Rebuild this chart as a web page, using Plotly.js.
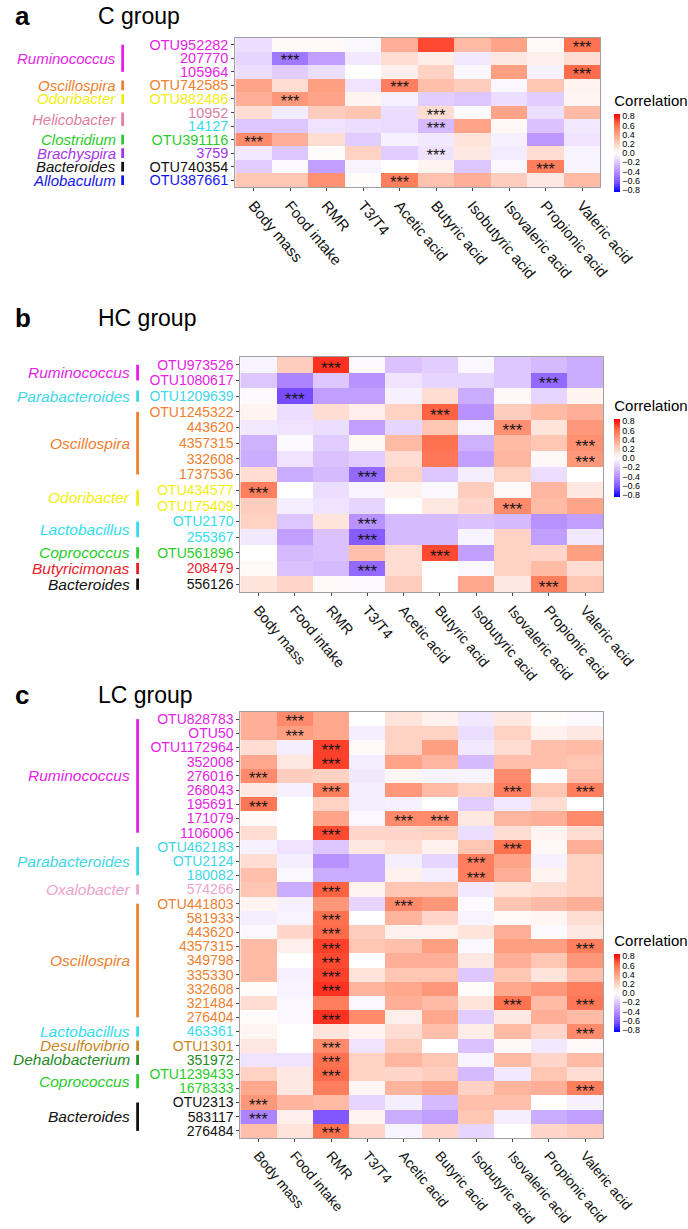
<!DOCTYPE html>
<html>
<head>
<meta charset="utf-8">
<script src="https://cdn.plot.ly/plotly-3.0.1.min.js"></script>
<style>html,body{margin:0;padding:0;background:#fff;}#chart{width:688px;height:1229px;}</style>
</head>
<body>
<div id="chart"></div>
<script>
// ---------------- DATA ----------------
const variables = ["Body mass","Food intake","RMR","T3/T4","Acetic acid","Butyric acid","Isobutyric acid","Isovaleric acid","Propionic acid","Valeric acid"];

// Panel a: C group
const otuA = ["OTU952282","207770","105964","OTU742585","OTU882486","10952","14127","OTU391116","3759","OTU740354","OTU387661"];
const genusA = ["Ruminococcus","Ruminococcus","Ruminococcus","Oscillospira","Odoribacter","Helicobacter","Helicobacter","Clostridium","Brachyspira","Bacteroides","Allobaculum"];
const corrA = [
  [-0.12, 0.02, 0.02,-0.03, 0.35, 0.70, 0.30, 0.40, 0.02, 0.60],
  [-0.15,-0.50,-0.35,-0.08, 0.15, 0.08,-0.08, 0.10, 0.07, 0.15],
  [-0.12,-0.18,-0.12, 0.00, 0.07, 0.20,-0.03, 0.42,-0.05, 0.62],
  [ 0.40, 0.15, 0.42,-0.10, 0.55, 0.28, 0.22,-0.03, 0.25, 0.05],
  [ 0.35, 0.45, 0.40, 0.05,-0.05,-0.18,-0.20,-0.12,-0.18, 0.04],
  [ 0.15,-0.07, 0.22, 0.25,-0.12, 0.15,-0.02, 0.40,-0.12, 0.30],
  [-0.20,-0.20,-0.10,-0.12,-0.13,-0.25, 0.40, 0.03,-0.22,-0.08],
  [ 0.50, 0.35, 0.15,-0.18,-0.05,-0.08, 0.12,-0.05,-0.38,-0.10],
  [-0.08,-0.20, 0.01, 0.20,-0.18,-0.10, 0.10,-0.07, 0.15,-0.04],
  [-0.18,-0.02,-0.35,-0.04, 0.00, 0.05,-0.20,-0.03, 0.55,-0.04],
  [ 0.25, 0.25, 0.48, 0.01, 0.55, 0.27, 0.35, 0.22, 0.10, 0.30]
];
const sigA = [[9],[1],[9],[4],[1],[5],[5],[0],[5],[8],[4]];

// Panel b: HC group
const otuB = ["OTU973526","OTU1080617","OTU1209639","OTU1245322","443620","4357315","332608","1737536","OTU434577","OTU175409","OTU2170","255367","OTU561896","208479","556126"];
const genusB = ["Ruminococcus","Ruminococcus","Parabacteroides","Oscillospira","Oscillospira","Oscillospira","Oscillospira","Oscillospira","Odoribacter","Odoribacter","Lactobacillus","Lactobacillus","Coprococcus","Butyricimonas","Bacteroides"];
const corrB = [
  [-0.04, 0.22, 0.75,-0.02,-0.22,-0.18,-0.03,-0.20,-0.25,-0.30],
  [-0.20,-0.45,-0.20,-0.40,-0.10,-0.15,-0.15,-0.20,-0.55,-0.30],
  [-0.02,-0.65,-0.35,-0.35,-0.05, 0.15,-0.30, 0.03,-0.15, 0.05],
  [ 0.05,-0.12, 0.15, 0.07, 0.20, 0.65,-0.40, 0.22, 0.30, 0.35],
  [-0.08,-0.10,-0.12,-0.35,-0.15, 0.25,-0.04, 0.48, 0.12, 0.45],
  [-0.28,-0.02,-0.18, 0.03, 0.30, 0.60,-0.28, 0.30, 0.25, 0.48],
  [-0.30,-0.10,-0.22,-0.18, 0.15, 0.58,-0.35, 0.32, 0.03, 0.45],
  [ 0.15,-0.30,-0.25,-0.55, 0.20,-0.20,-0.06, 0.20,-0.12, 0.00],
  [ 0.55, 0.00,-0.12,-0.04, 0.06,-0.03, 0.22, 0.02, 0.32, 0.10],
  [ 0.22,-0.06,-0.10,-0.15, 0.00, 0.10, 0.18, 0.50, 0.30, 0.40],
  [ 0.20,-0.20, 0.12,-0.40,-0.25,-0.25,-0.22,-0.25,-0.40,-0.35],
  [-0.08,-0.35,-0.22,-0.60,-0.25,-0.25,-0.04, 0.20,-0.35,-0.08],
  [ 0.00,-0.25,-0.22, 0.28, 0.15, 0.70,-0.35, 0.20, 0.18, 0.42],
  [ 0.02,-0.22,-0.25,-0.55, 0.15, 0.00,-0.03, 0.20, 0.30, 0.15],
  [ 0.12, 0.18, 0.02,-0.02, 0.22, 0.00, 0.38, 0.10, 0.55, 0.25]
];
const sigB = [[2],[8],[1],[5],[7],[9],[9],[3],[0],[7],[3],[3],[5],[3],[8]];

// Panel c: LC group
const otuC = ["OTU828783","OTU50","OTU1172964","352008","276016","268043","195691","171079","1106006","OTU462183","OTU2124","180082","574266","OTU441803","581933","443620","4357315","349798","335330","332608","321484","276404","463361","OTU1301","351972","OTU1239433","1678333","OTU2313","583117","276484"];
const genusC = ["Ruminococcus","Ruminococcus","Ruminococcus","Ruminococcus","Ruminococcus","Ruminococcus","Ruminococcus","Ruminococcus","Ruminococcus","Parabacteroides","Parabacteroides","Parabacteroides","Oxalobacter","Oscillospira","Oscillospira","Oscillospira","Oscillospira","Oscillospira","Oscillospira","Oscillospira","Oscillospira","Oscillospira","Lactobacillus","Desulfovibrio","Dehalobacterium","Coprococcus","Coprococcus","Bacteroides","Bacteroides","Bacteroides"];
const corrC = [
  [ 0.35, 0.50, 0.38, 0.00, 0.12, 0.06,-0.08, 0.10, 0.01,-0.02],
  [ 0.35, 0.42, 0.38,-0.06, 0.20, 0.20,-0.12, 0.20, 0.06, 0.10],
  [ 0.15,-0.06, 0.72, 0.02, 0.20, 0.42,-0.08, 0.15, 0.28, 0.30],
  [ 0.38, 0.10, 0.72,-0.06, 0.40, 0.32,-0.25, 0.28, 0.28, 0.25],
  [ 0.50, 0.22, 0.20,-0.08, 0.04,-0.04,-0.04, 0.50, 0.00, 0.28],
  [ 0.10,-0.05, 0.55,-0.06, 0.45, 0.30, 0.20, 0.55, 0.25, 0.55],
  [ 0.58, 0.00, 0.20,-0.06,-0.05, 0.00,-0.18,-0.08, 0.15, 0.00],
  [ 0.02, 0.00, 0.40,-0.03, 0.50, 0.50, 0.10, 0.32, 0.35, 0.50],
  [ 0.15, 0.00, 0.70, 0.18, 0.18, 0.20,-0.12, 0.15, 0.05, 0.15],
  [-0.05,-0.10,-0.20, 0.10, 0.15, 0.06, 0.25, 0.60, 0.03, 0.35],
  [ 0.15,-0.06,-0.40,-0.30,-0.06,-0.15, 0.55, 0.40,-0.05, 0.20],
  [ 0.28,-0.03,-0.30,-0.30, 0.06,-0.06, 0.55, 0.35, 0.05, 0.20],
  [ 0.25,-0.30, 0.65, 0.05, 0.25, 0.25,-0.08, 0.12, 0.15, 0.20],
  [ 0.05,-0.05, 0.45,-0.15, 0.50, 0.45,-0.02, 0.25, 0.30, 0.35],
  [-0.06,-0.04, 0.60, 0.00, 0.33, 0.18,-0.04, 0.02, 0.04, 0.15],
  [-0.03, 0.18, 0.62, 0.22, 0.06, 0.06, 0.12, 0.35,-0.02, 0.10],
  [ 0.30, 0.07, 0.72, 0.25, 0.28, 0.42,-0.03, 0.42, 0.42, 0.55],
  [ 0.30, 0.00, 0.70, 0.00, 0.35, 0.35, 0.10, 0.35, 0.25, 0.45],
  [ 0.30,-0.05, 0.72, 0.12, 0.25, 0.25,-0.20, 0.25, 0.12, 0.28],
  [ 0.01,-0.04, 0.75, 0.33, 0.38, 0.45, 0.01, 0.38, 0.45, 0.55],
  [ 0.15,-0.03, 0.55,-0.03, 0.35, 0.30, 0.12, 0.60, 0.30, 0.58],
  [ 0.01,-0.03, 0.75, 0.50, 0.07, 0.38,-0.18, 0.10, 0.35, 0.30],
  [ 0.04, 0.00, 0.12, 0.05, 0.15, 0.28, 0.08, 0.30, 0.18, 0.50],
  [ 0.10, 0.00, 0.50,-0.10, 0.22, 0.00,-0.22, 0.03,-0.08, 0.02],
  [-0.10,-0.10, 0.60, 0.20, 0.32, 0.25,-0.04, 0.30, 0.18, 0.30],
  [ 0.20, 0.10, 0.62, 0.20, 0.18, 0.22,-0.25,-0.08, 0.25, 0.15],
  [ 0.38, 0.10, 0.55, 0.04, 0.33, 0.38, 0.20, 0.33, 0.35, 0.55],
  [ 0.45, 0.33, 0.30,-0.15,-0.06,-0.25, 0.28, 0.28, 0.00,-0.05],
  [-0.45, 0.07,-0.62, 0.05,-0.30,-0.35, 0.25,-0.06,-0.30,-0.35],
  [ 0.28, 0.12, 0.60, 0.18,-0.04, 0.18,-0.15, 0.00, 0.18, 0.22]
];
const sigC = [[1],[1],[2],[2],[0],[2,7,9],[0],[4,5],[2],[7],[6],[6],[2],[4],[2],[2],[2,9],[2],[2],[2],[7,9],[2],[9],[2],[2],[2],[9],[0],[0],[2]];

const panelLetters = ["a","b","c"];
const panelTitles = ["C group","HC group","LC group"];
const colorbarTicks = [0.8,0.6,0.4,0.2,0.0,-0.2,-0.4,-0.6,-0.8];
const sigMark = "***";

// ---------------- STYLE ----------------
const genusColor = {
  "Ruminococcus":"#E61EE6","Oscillospira":"#EE8030","Odoribacter":"#F2EE10","Helicobacter":"#DE7FA3",
  "Clostridium":"#2ACC2A","Brachyspira":"#A535E8","Bacteroides":"#111111","Allobaculum":"#1515EE",
  "Parabacteroides":"#3FD6E6","Lactobacillus":"#33DDEE","Coprococcus":"#2ACC2A","Butyricimonas":"#EE1C2A",
  "Oxalobacter":"#EFA3CF","Desulfovibrio":"#C8861E","Dehalobacterium":"#1F8A1F"
};
const labelColorOverride = {"14127":"#33DDEE"};

const W = 688, H = 1229;
const PX = x => x / W;
const PY = y => 1 - y / H;
const FONT = "Liberation Sans, Arial, Helvetica, sans-serif";

// per-panel geometry & font sizes (pixels)
const geo = [
  {box:[236,602,38,187], titleY:16,  cbTop:92,  genusRight:118, barX:123, tickSize:14.5, xTickSize:15, genusSize:15, starSize:16},
  {box:[241,605,357,592], titleY:318, cbTop:397, genusRight:132, barX:138, tickSize:14, xTickSize:14.5, genusSize:15.5, starSize:17},
  {box:[241,605,712,1138], titleY:695, cbTop:932, genusRight:132, barX:138, tickSize:14, xTickSize:14, genusSize:15.5, starSize:16}
];

const colorscale = [
  [0.0,"#0000FF"],[0.125,"#7E52FF"],[0.25,"#B38BFF"],[0.375,"#DCC4FF"],[0.5,"#FFFFFF"],
  [0.625,"#FFCFBF"],[0.75,"#FF9E81"],[0.875,"#FF6846"],[1.0,"#FF0000"]
];

const panels = [
  {otu: otuA, genus: genusA, corr: corrA, sig: sigA},
  {otu: otuB, genus: genusB, corr: corrB, sig: sigB},
  {otu: otuC, genus: genusC, corr: corrC, sig: sigC}
];

const traces = [];
const layout = {
  width: W, height: H,
  margin: {l:0, r:0, t:0, b:0},
  paper_bgcolor: "#fff", plot_bgcolor: "#fff",
  font: {family: FONT, color: "#000"},
  showlegend: false,
  annotations: [], shapes: []
};

panels.forEach((p, k) => {
  const sfx = k === 0 ? "" : String(k + 1);
  const xa = "x" + sfx, ya = "y" + sfx;
  const g = geo[k], box = g.box;
  const n = p.otu.length;
  const idx = p.otu.map((_, i) => i);

  traces.push({
    type: "heatmap", x: variables, y: idx, z: p.corr,
    xaxis: xa, yaxis: ya,
    zmin: -0.85, zmax: 0.85, colorscale: colorscale,
    hoverinfo: "skip", xgap: 0, ygap: 0,
    colorbar: {
      title: {text: "Correlation", side: "top", font: {size: 15, family: FONT}},
      x: PX(616), xanchor: "left", y: PY(g.cbTop), yanchor: "top",
      lenmode: "pixels", len: 100, thicknessmode: "pixels", thickness: 6,
      tickvals: colorbarTicks, tickformat: ".1f", ticks: "",
      tickfont: {size: 9, family: FONT}, outlinewidth: 0, xpad: 0, ypad: 0
    }
  });

  // significance marks on the starred cells (slightly below centre, like geom_text)
  const sx = [], sy = [];
  p.sig.forEach((cols, i) => cols.forEach(j => { sx.push(variables[j]); sy.push(i + 0.3); }));
  traces.push({
    type: "scatter", mode: "text", x: sx, y: sy, xaxis: xa, yaxis: ya,
    text: sx.map(() => sigMark), textposition: "middle center",
    textfont: {size: g.starSize, color: "#151515", family: FONT}, hoverinfo: "skip", cliponaxis: false
  });

  const axBase = {showgrid:false, zeroline:false, showline:true, mirror:true, linecolor:"#a0a0a0", linewidth:1,
                  ticks:"outside", ticklen:3, tickcolor:"#444", tickwidth:1};
  layout["xaxis" + sfx] = Object.assign({}, axBase, {
    domain: [PX(box[0]), PX(box[1])], anchor: ya, type: "category",
    categoryorder: "array", categoryarray: variables,
    range: [-0.5, variables.length - 0.5], tickangle: 50,
    tickfont: {size: g.xTickSize, color: "#111", family: FONT}
  });
  layout["yaxis" + sfx] = Object.assign({}, axBase, {
    domain: [PY(box[3]), PY(box[2])], anchor: xa,
    range: [n - 0.5, -0.5], tickvals: idx,
    ticktext: p.otu.map((o, i) => `<span style="color:${labelColorOverride[o] || genusColor[p.genus[i]]}">${o}</span>`),
    tickfont: {size: g.tickSize, family: FONT}
  });

  // genus groups (contiguous runs)
  const groups = [];
  p.genus.forEach((gn, i) => {
    if (groups.length && groups[groups.length - 1].g === gn) groups[groups.length - 1].end = i;
    else groups.push({g: gn, start: i, end: i});
  });
  groups.forEach(gr => {
    const c = genusColor[gr.g];
    const mid = (gr.start + gr.end) / 2;
    const half = Math.max(0.36, (gr.end - gr.start) / 2);
    layout.shapes.push({type: "line", xref: "paper", yref: ya,
      x0: PX(g.barX), x1: PX(g.barX), y0: mid - half, y1: mid + half,
      line: {color: c, width: 2.8}});
    layout.annotations.push({xref: "paper", yref: ya, x: PX(g.genusRight), y: mid,
      xanchor: "right", yanchor: "middle", showarrow: false,
      text: `<i>${gr.g}</i>`, font: {size: g.genusSize, color: c, family: FONT}});
  });

  layout.annotations.push({xref: "paper", yref: "paper", x: PX(13), y: PY(g.titleY),
    xanchor: "left", yanchor: "middle", showarrow: false,
    text: `<b>${panelLetters[k]}</b>`, font: {size: 26, family: FONT}});
  layout.annotations.push({xref: "paper", yref: "paper", x: PX(96), y: PY(g.titleY),
    xanchor: "left", yanchor: "middle", showarrow: false,
    text: panelTitles[k], font: {size: 23, family: FONT}});
});

Plotly.newPlot("chart", traces, layout, {displayModeBar: false, staticPlot: true});
</script>
</body>
</html>
